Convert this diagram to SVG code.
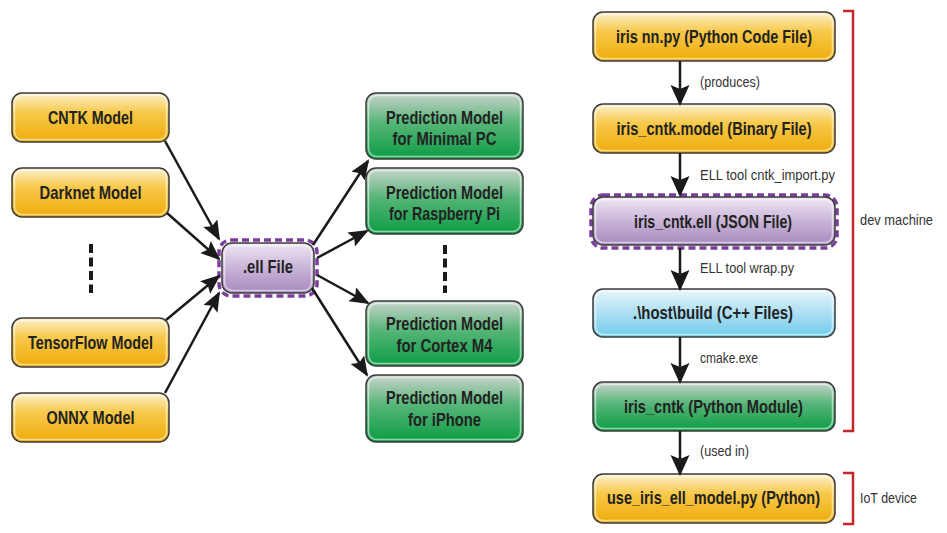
<svg xmlns="http://www.w3.org/2000/svg" width="947" height="533" viewBox="0 0 947 533">
<defs>
<linearGradient id="gOrange" x1="0" y1="0" x2="0" y2="1">
<stop offset="0" stop-color="#fdf1cf"/><stop offset="0.4" stop-color="#f7c94a"/><stop offset="1" stop-color="#eeab0a"/>
</linearGradient>
<linearGradient id="gGreen" x1="0" y1="0" x2="0" y2="1">
<stop offset="0" stop-color="#cbd4cd"/><stop offset="0.45" stop-color="#56b577"/><stop offset="1" stop-color="#0c9c45"/>
</linearGradient>
<linearGradient id="gPurple" x1="0" y1="0" x2="0" y2="1">
<stop offset="0" stop-color="#efe8f4"/><stop offset="0.5" stop-color="#c9b4d8"/><stop offset="1" stop-color="#a688bd"/>
</linearGradient>
<linearGradient id="gBlue" x1="0" y1="0" x2="0" y2="1">
<stop offset="0" stop-color="#eaf6fb"/><stop offset="0.5" stop-color="#acdff2"/><stop offset="1" stop-color="#6fcbeb"/>
</linearGradient>
<marker id="ah" markerUnits="userSpaceOnUse" markerWidth="22" markerHeight="20" refX="19" refY="9.5" orient="auto" viewBox="0 0 22 20">
<path d="M0,0 L21,9.5 L0,19 L4,9.5 z" fill="#1a1a1a"/>
</marker>
<marker id="ahs" markerUnits="userSpaceOnUse" markerWidth="21" markerHeight="17" refX="18" refY="8" orient="auto" viewBox="0 0 21 17">
<path d="M0,0 L20,8 L0,16 L3.5,8 z" fill="#1a1a1a"/>
</marker>
</defs>
<style>
.box{stroke:#3a3a3a;stroke-width:1.5}
.hl{fill:none;stroke:#ffffff;stroke-opacity:0.55;stroke-width:1.5}
.or{fill:url(#gOrange)}
.gr{fill:url(#gGreen)}
.pu{fill:url(#gPurple)}
.bl{fill:url(#gBlue)}
.dash{fill:none;stroke:#7a3e9d;stroke-width:3.5;stroke-dasharray:7 4}
.t{font-family:"Liberation Sans",Arial,sans-serif;font-weight:bold;font-size:18.5px;fill:#222;text-anchor:middle}
.l{font-family:"Liberation Sans",Arial,sans-serif;font-size:15px;fill:#333}
.c line{stroke:#1a1a1a;stroke-width:2.5}
.dots{stroke:#1a1a1a;stroke-width:4;stroke-dasharray:9 4.5}
.br{fill:none;stroke:#c1272d;stroke-width:2.5}
</style>

<g id="cntk"><rect class="box or" x="12" y="93" width="157" height="49" rx="10"/><rect class="hl" x="14.5" y="95.5" width="152" height="44" rx="8"/><text class="t" x="90.5" y="123.5" textLength="85" lengthAdjust="spacingAndGlyphs">CNTK Model</text></g>
<g id="darknet"><rect class="box or" x="12" y="168" width="157" height="49" rx="10"/><rect class="hl" x="14.5" y="170.5" width="152" height="44" rx="8"/><text class="t" x="90.5" y="198.5" textLength="102" lengthAdjust="spacingAndGlyphs">Darknet Model</text></g>
<g id="tensorflow"><rect class="box or" x="12" y="318" width="157" height="49" rx="10"/><rect class="hl" x="14.5" y="320.5" width="152" height="44" rx="8"/><text class="t" x="90.5" y="348.5" textLength="125" lengthAdjust="spacingAndGlyphs">TensorFlow Model</text></g>
<g id="onnx"><rect class="box or" x="12" y="393" width="157" height="49" rx="10"/><rect class="hl" x="14.5" y="395.5" width="152" height="44" rx="8"/><text class="t" x="90.5" y="423.5" textLength="88" lengthAdjust="spacingAndGlyphs">ONNX Model</text></g>

<g id="ellfile"><rect class="dash" x="219" y="240" width="98" height="56" rx="12"/><rect class="box pu" x="222" y="243" width="92" height="50" rx="10"/><rect class="hl" x="224.5" y="245.5" width="87" height="45" rx="8"/><text class="t" x="268" y="273" textLength="50" lengthAdjust="spacingAndGlyphs">.ell File</text></g>

<g id="minpc"><rect class="box gr" x="366" y="93" width="157" height="66" rx="10"/><rect class="hl" x="368.5" y="95.5" width="152" height="61" rx="8"/><text class="t" x="444.5" y="123.5" textLength="117" lengthAdjust="spacingAndGlyphs">Prediction Model</text><text class="t" x="444.5" y="145" textLength="104" lengthAdjust="spacingAndGlyphs">for Minimal PC</text></g>
<g id="raspi"><rect class="box gr" x="366" y="168" width="157" height="66" rx="10"/><rect class="hl" x="368.5" y="170.5" width="152" height="61" rx="8"/><text class="t" x="444.5" y="198.5" textLength="117" lengthAdjust="spacingAndGlyphs">Prediction Model</text><text class="t" x="444.5" y="220" textLength="111" lengthAdjust="spacingAndGlyphs">for Raspberry Pi</text></g>
<g id="cortex"><rect class="box gr" x="366" y="301" width="157" height="65" rx="10"/><rect class="hl" x="368.5" y="303.5" width="152" height="60" rx="8"/><text class="t" x="444.5" y="329.5" textLength="117" lengthAdjust="spacingAndGlyphs">Prediction Model</text><text class="t" x="444.5" y="351.5" textLength="96" lengthAdjust="spacingAndGlyphs">for Cortex M4</text></g>
<g id="iphone"><rect class="box gr" x="366" y="375" width="157" height="67" rx="10"/><rect class="hl" x="368.5" y="377.5" width="152" height="62" rx="8"/><text class="t" x="444.5" y="403.5" textLength="117" lengthAdjust="spacingAndGlyphs">Prediction Model</text><text class="t" x="444.5" y="425.5" textLength="73" lengthAdjust="spacingAndGlyphs">for iPhone</text></g>

<g id="irisnn"><rect class="box or" x="593" y="12" width="242" height="49" rx="10"/><rect class="hl" x="595.5" y="14.5" width="237" height="44" rx="8"/><text class="t" x="714" y="42.5" textLength="196" lengthAdjust="spacingAndGlyphs">iris nn.py (Python Code File)</text></g>
<g id="cntkmodel"><rect class="box or" x="593" y="104" width="242" height="49" rx="10"/><rect class="hl" x="595.5" y="106.5" width="237" height="44" rx="8"/><text class="t" x="714" y="134.5" textLength="195" lengthAdjust="spacingAndGlyphs">iris_cntk.model (Binary File)</text></g>
<g id="cntkell"><rect class="dash" x="591" y="195" width="246" height="53" rx="12"/><rect class="box pu" x="593" y="197" width="242" height="48" rx="10"/><rect class="hl" x="595.5" y="199.5" width="237" height="43" rx="8"/><text class="t" x="713" y="227.5" textLength="158" lengthAdjust="spacingAndGlyphs">iris_cntk.ell (JSON File)</text></g>
<g id="hostbuild"><rect class="box bl" x="593" y="289" width="242" height="48" rx="10"/><rect class="hl" x="595.5" y="291.5" width="237" height="43" rx="8"/><text class="t" x="713" y="318.5" textLength="160" lengthAdjust="spacingAndGlyphs">.\host\build (C++ Files)</text></g>
<g id="pymodule"><rect class="box gr" x="593" y="382" width="242" height="49" rx="10"/><rect class="hl" x="595.5" y="384.5" width="237" height="44" rx="8"/><text class="t" x="713.5" y="412.5" textLength="179" lengthAdjust="spacingAndGlyphs">iris_cntk (Python Module)</text></g>
<g id="useiris"><rect class="box or" x="593" y="474" width="242" height="49" rx="10"/><rect class="hl" x="595.5" y="476.5" width="237" height="44" rx="8"/><text class="t" x="713.5" y="503.5" textLength="213" lengthAdjust="spacingAndGlyphs">use_iris_ell_model.py (Python)</text></g>

<g id="connectors" class="c">
<line x1="165" y1="141" x2="219" y2="239" marker-end="url(#ahs)"/>
<line x1="167" y1="213" x2="219" y2="259" marker-end="url(#ahs)"/>
<line x1="166" y1="320" x2="219" y2="276" marker-end="url(#ahs)"/>
<line x1="165" y1="393" x2="219" y2="293" marker-end="url(#ahs)"/>
<line x1="313" y1="245" x2="368" y2="161" marker-end="url(#ahs)"/>
<line x1="317" y1="258" x2="367" y2="231" marker-end="url(#ahs)"/>
<line x1="317" y1="275" x2="368" y2="303" marker-end="url(#ahs)"/>
<line x1="312" y1="288" x2="367" y2="375" marker-end="url(#ahs)"/>
<line x1="680" y1="61" x2="680" y2="104" marker-end="url(#ah)"/>
<line x1="680" y1="153" x2="680" y2="195" marker-end="url(#ah)"/>
<line x1="680" y1="248" x2="680" y2="289" marker-end="url(#ah)"/>
<line x1="680" y1="337" x2="680" y2="382" marker-end="url(#ah)"/>
<line x1="680" y1="431" x2="680" y2="474" marker-end="url(#ah)"/>
</g>

<g id="labels">
<text class="l" x="700" y="87" textLength="60" lengthAdjust="spacingAndGlyphs">(produces)</text>
<text class="l" x="700" y="180" textLength="135" lengthAdjust="spacingAndGlyphs">ELL tool cntk_import.py</text>
<text class="l" x="700" y="273" textLength="94" lengthAdjust="spacingAndGlyphs">ELL tool wrap.py</text>
<text class="l" x="700" y="363" textLength="58" lengthAdjust="spacingAndGlyphs">cmake.exe</text>
<text class="l" x="700" y="456" textLength="49" lengthAdjust="spacingAndGlyphs">(used in)</text>
<text class="l" x="860" y="225" textLength="73" lengthAdjust="spacingAndGlyphs">dev machine</text>
<text class="l" x="860" y="503" textLength="57" lengthAdjust="spacingAndGlyphs">IoT device</text>
</g>

<g id="ellipses">
<line class="dots" x1="91" y1="244" x2="91" y2="293"/>
<line class="dots" x1="445" y1="245" x2="445" y2="293"/>
</g>

<g id="brackets">
<polyline class="br" points="843,11 853,11 853,431 843,431"/>
<polyline class="br" points="843,473 853,473 853,524 843,524"/>
</g>
</svg>
